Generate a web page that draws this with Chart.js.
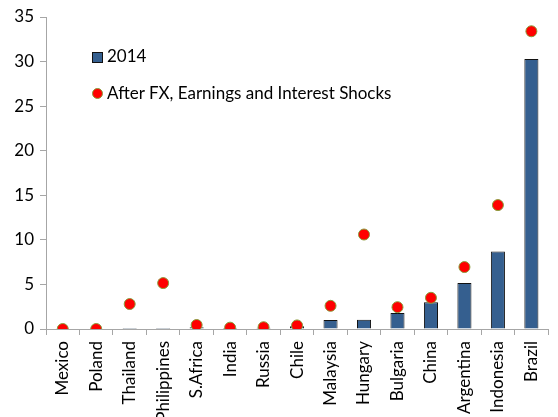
<!DOCTYPE html>
<html>
<head>
<meta charset="utf-8">
<script src="https://cdn.jsdelivr.net/npm/chart.js@4"></script>
<style>
  body { margin: 0; background: #fff; }
  #wrap { position: relative; width: 558px; height: 417px; overflow: hidden; }
  .leg { position: absolute; font-family: Lato, "Open Sans", sans-serif; font-size: 17px; line-height: 17px; color: #000; white-space: nowrap; }
  .sq { position: absolute; width: 9px; height: 9px; background: #355f8f; border: 1px solid #111; }
  .dot { position: absolute; width: 9px; height: 9px; border-radius: 50%; background: #ff0000; border: 1px solid #8a9a3a; }
</style>
</head>
<body>
<div id="wrap">
  <canvas id="chart" width="558" height="417"></canvas>
  <div class="sq" style="left:92px; top:52px;"></div>
  <div class="leg" style="left:107px; top:47px;">2014</div>
  <div class="dot" style="left:92px; top:88px;"></div>
  <div class="leg" style="left:107px; top:84px;">After FX, Earnings and Interest Shocks</div>
</div>
<script>
const countries = ['Mexico', 'Poland', 'Thailand', 'Philippines', 'S.Africa', 'India', 'Russia', 'Chile',
                   'Malaysia', 'Hungary', 'Bulgaria', 'China', 'Argentina', 'Indonesia', 'Brazil'];
const values2014 = [0, 0, 0.1, 0.1, 0.2, 0.1, 0.15, 0.3, 1.0, 1.05, 1.8, 3.0, 5.15, 8.7, 30.3];
const afterShocks = [0, 0, 2.8, 5.15, 0.45, 0.15, 0.2, 0.4, 2.6, 10.6, 2.45, 3.5, 6.95, 13.9, 33.4];
const yTicks = [0, 5, 10, 15, 20, 25, 30, 35];

const font = { family: 'Lato, "Open Sans", sans-serif', size: 17 };
const axisGray = '#a6a6a6';

new Chart(document.getElementById('chart'), {
    type: 'bar',
    data: {
        labels: countries,
        datasets: [{
            label: '2014',
            data: values2014,
            backgroundColor: '#355f8f',
            borderColor: '#111111',
            borderWidth: 1,
            barPercentage: 0.42,
            categoryPercentage: 1,
            order: 2
        }, {
            type: 'line',
            label: 'After FX, Earnings and Interest Shocks',
            data: afterShocks,
            showLine: false,
            pointRadius: 5.5,
            pointBackgroundColor: '#ff0000',
            pointBorderColor: '#8a9a3a',
            pointBorderWidth: 1,
            order: 1
        }]
    },
    options: {
        responsive: false,
        animation: false,
        layout: { padding: { top: 17, right: -2 } },
        plugins: {
            legend: { display: false },
            tooltip: { enabled: false }
        },
        scales: {
            x: {
                offset: true,
                grid: { drawOnChartArea: false, offset: true, color: axisGray, tickLength: 6 },
                border: { color: axisGray },
                ticks: { color: '#000', font: font, maxRotation: 90, minRotation: 90, autoSkip: false, padding: 6 },
                afterFit: s => { s.height = 88; }
            },
            y: {
                min: 0,
                max: 35,
                afterBuildTicks: s => { s.ticks = yTicks.map(v => ({ value: v })); },
                grid: { drawOnChartArea: false, color: axisGray, tickLength: 6 },
                border: { color: axisGray },
                ticks: { color: '#000', font: font, padding: 6 },
                afterFit: s => { s.width = 46; }
            }
        }
    }
});
</script>
</body>
</html>
